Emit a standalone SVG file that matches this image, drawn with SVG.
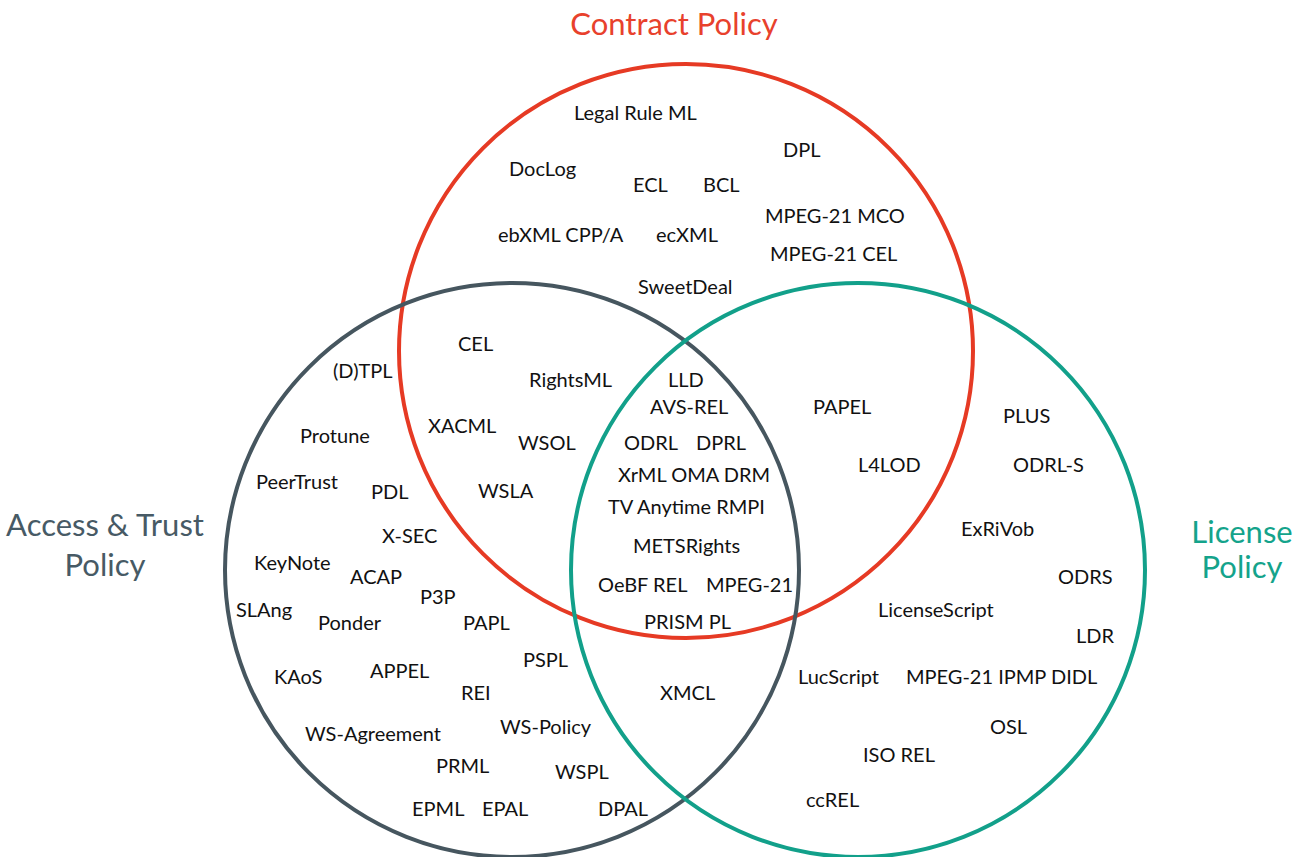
<svg xmlns="http://www.w3.org/2000/svg" width="1305" height="857" viewBox="0 0 1305 857">
<style>
.c{fill:none;stroke-width:4}
.t{font-family:Lato,"Noto Sans",sans-serif;font-size:20px;fill:#111}
.h{font-family:Lato,"Noto Sans",sans-serif;font-size:31px;text-anchor:middle}
</style>
<rect width="1305" height="857" fill="#fff"/>
<g id="contract">
<circle class="c" cx="686" cy="351" r="287" stroke="#E63A24"/>
<text class="h" x="674" y="35" fill="#E8412C">Contract Policy</text>
</g>
<g id="access">
<circle class="c" cx="512" cy="570" r="287" stroke="#46565F"/>
<text class="h" x="105" y="536" fill="#475A65">Access &amp; Trust</text>
<text class="h" x="105" y="576" fill="#475A65">Policy</text>
</g>
<g id="license">
<circle class="c" cx="858" cy="570" r="287" stroke="#12A08A"/>
<text class="h" x="1242" y="543" fill="#14A38B">License</text>
<text class="h" x="1242" y="578" fill="#14A38B">Policy</text>
</g>
<g id="labels">
<text class="t" x="574" y="120">Legal Rule ML</text>
<text class="t" x="783" y="157">DPL</text>
<text class="t" x="509" y="176">DocLog</text>
<text class="t" x="633" y="192">ECL</text>
<text class="t" x="703" y="192">BCL</text>
<text class="t" x="765" y="223">MPEG-21 MCO</text>
<text class="t" x="498" y="242">ebXML CPP/A</text>
<text class="t" x="656" y="242">ecXML</text>
<text class="t" x="770" y="261">MPEG-21 CEL</text>
<text class="t" x="638" y="294">SweetDeal</text>
<text class="t" x="458" y="351">CEL</text>
<text class="t" x="529" y="387">RightsML</text>
<text class="t" x="668" y="387">LLD</text>
<text class="t" x="650" y="414">AVS-REL</text>
<text class="t" x="428" y="433">XACML</text>
<text class="t" x="518" y="450">WSOL</text>
<text class="t" x="624" y="450">ODRL</text>
<text class="t" x="696" y="450">DPRL</text>
<text class="t" x="618" y="482">XrML OMA DRM</text>
<text class="t" x="478" y="498">WSLA</text>
<text class="t" x="608" y="514">TV Anytime RMPI</text>
<text class="t" x="633" y="553">METSRights</text>
<text class="t" x="598" y="592">OeBF REL</text>
<text class="t" x="706" y="592">MPEG-21</text>
<text class="t" x="644" y="629">PRISM PL</text>
<text class="t" x="660" y="700">XMCL</text>
<text class="t" x="333" y="378">(D)TPL</text>
<text class="t" x="300" y="443">Protune</text>
<text class="t" x="256" y="489">PeerTrust</text>
<text class="t" x="371" y="499">PDL</text>
<text class="t" x="382" y="543">X-SEC</text>
<text class="t" x="254" y="570">KeyNote</text>
<text class="t" x="350" y="584">ACAP</text>
<text class="t" x="420" y="604">P3P</text>
<text class="t" x="236" y="617">SLAng</text>
<text class="t" x="318" y="630">Ponder</text>
<text class="t" x="463" y="630">PAPL</text>
<text class="t" x="523" y="667">PSPL</text>
<text class="t" x="274" y="684">KAoS</text>
<text class="t" x="370" y="678">APPEL</text>
<text class="t" x="461" y="700">REI</text>
<text class="t" x="305" y="741">WS-Agreement</text>
<text class="t" x="500" y="734">WS-Policy</text>
<text class="t" x="436" y="773">PRML</text>
<text class="t" x="555" y="779">WSPL</text>
<text class="t" x="412" y="816">EPML</text>
<text class="t" x="482" y="816">EPAL</text>
<text class="t" x="598" y="816">DPAL</text>
<text class="t" x="813" y="414">PAPEL</text>
<text class="t" x="1003" y="423">PLUS</text>
<text class="t" x="858" y="472">L4LOD</text>
<text class="t" x="1013" y="472">ODRL-S</text>
<text class="t" x="961" y="536">ExRiVob</text>
<text class="t" x="1058" y="584">ODRS</text>
<text class="t" x="878" y="617">LicenseScript</text>
<text class="t" x="1076" y="643">LDR</text>
<text class="t" x="798" y="684">LucScript</text>
<text class="t" x="906" y="684">MPEG-21 IPMP DIDL</text>
<text class="t" x="990" y="734">OSL</text>
<text class="t" x="863" y="762">ISO REL</text>
<text class="t" x="806" y="807">ccREL</text>
</g>
</svg>
